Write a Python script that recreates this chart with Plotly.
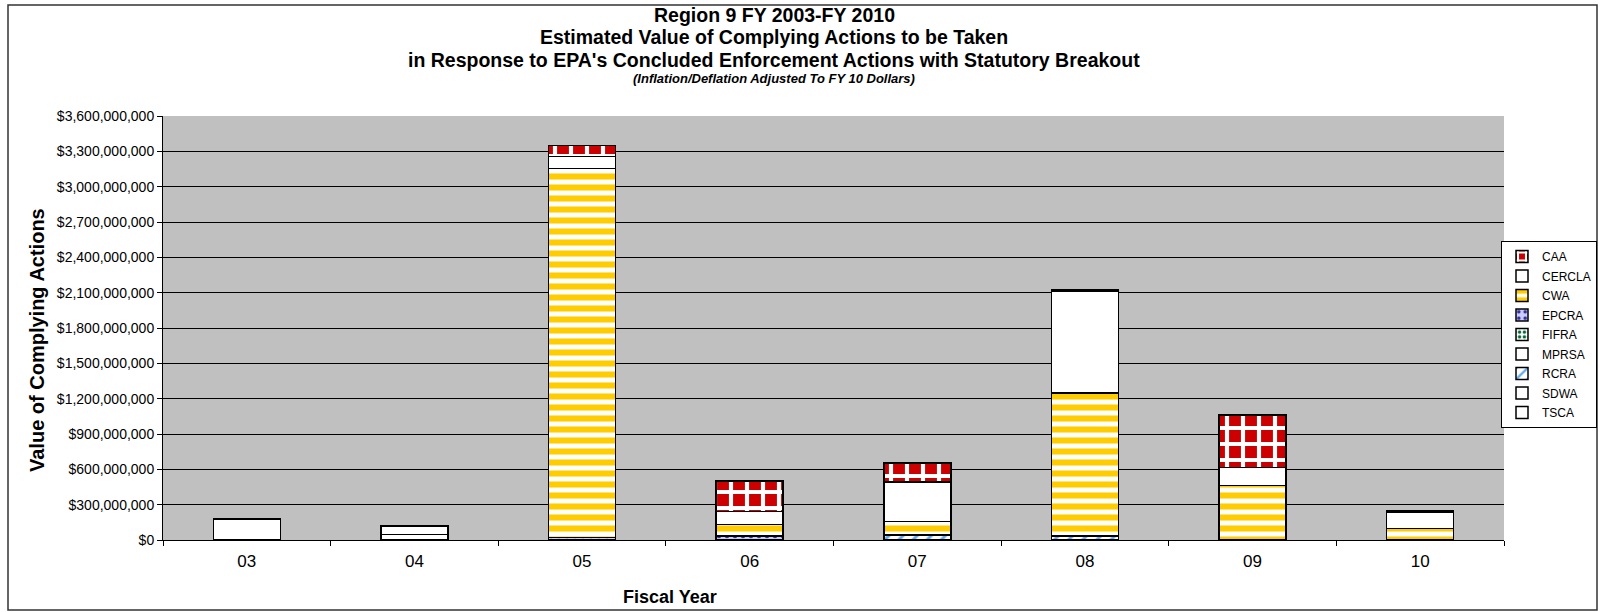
import plotly.graph_objects as go

# fiscal years and values per statute (US dollars, millions)
years = ["03", "04", "05", "06", "07", "08", "09", "10"]

tsca = [0, 0, 0, 0, 0, 0, 0, 0]
sdwa = [0, 45, 0, 0, 0, 0, 0, 0]
rcra = [0, 0, 0, 0, 42, 36, 0, 0]
mprsa = [0, 0, 0, 0, 0, 0, 0, 0]
fifra = [0, 0, 0, 0, 0, 0, 0, 0]
epcra = [0, 0, 20, 36, 0, 0, 0, 0]
cwa = [0, 0, 3136, 97, 113, 1214, 464, 99]
cercla = [175, 74, 99, 107, 337, 866, 153, 136]
caa = [6, 0, 93, 263, 161, 5, 444, 11]

FONT = "Arial, Liberation Sans, sans-serif"
FIG_W, FIG_H = 1600, 612

# plot area in page pixels
L, R, T, B = 163, 1504, 116, 540
W, H = R - L, B - T


def px(x):
    return (x - L) / W


def py(y):
    return (B - y) / H


# bottom -> top stacking order, with fill style
series = [
    ("TSCA", tsca, dict(color="white")),
    ("SDWA", sdwa, dict(color="white")),
    ("RCRA", rcra, dict(color="white", pattern=dict(shape="/", fgcolor="#66AAEE", bgcolor="white", size=10, solidity=0.3, fgopacity=1))),
    ("MPRSA", mprsa, dict(color="white")),
    ("FIFRA", fifra, dict(color="white", pattern=dict(shape=".", fgcolor="#006633", bgcolor="white", size=6, solidity=0.4, fgopacity=1))),
    ("EPCRA", epcra, dict(color="#9999FF", pattern=dict(shape=".", fgcolor="#333399", bgcolor="#CCCCFF", size=8, solidity=0.25, fgopacity=1))),
    ("CWA", cwa, dict(color="white", pattern=dict(shape="-", fgcolor="#FFCC00", bgcolor="white", size=11, solidity=0.55, fgopacity=1))),
    ("CERCLA", cercla, dict(color="white")),
    ("CAA", caa, dict(color="#CC0000", pattern=dict(shape="+", fgcolor="white", bgcolor="#CC0000", size=16, solidity=0.45, fgopacity=1))),
]

fig = go.Figure()
n = len(series)
for i, (name, vals, mk) in enumerate(series):
    fig.add_trace(go.Bar(
        name=name,
        x=years,
        y=[v * 1e6 if v else None for v in vals],
        legendgroup=name,
        legendrank=n - i,  # top of stack first in legend
        marker=dict(line=dict(color="black", width=1.5), **mk),
        width=0.4,
    ))

fig.update_layout(
    barmode="stack",
    width=FIG_W, height=FIG_H,
    margin=dict(l=L, r=FIG_W - R, t=T, b=FIG_H - B, autoexpand=False),
    paper_bgcolor="white",
    plot_bgcolor="#C0C0C0",
    font=dict(family=FONT, color="black"),
    showlegend=True,
    legend=dict(
        x=px(1597), xanchor="right", y=py(241), yanchor="top",
        traceorder="grouped", tracegroupgap=0.5,
        bgcolor="white", bordercolor="black", borderwidth=1,
        font=dict(size=12, family=FONT),
    ),
)

fig.update_xaxes(
    type="category",
    showline=True, linecolor="black", linewidth=1,
    ticks="outside", ticklen=5, tickcolor="black", tickson="boundaries",
    tickfont=dict(size=17, family=FONT),
    ticklabelstandoff=6,
    showgrid=False,
)
fig.update_yaxes(
    range=[0, 3.6e9], dtick=3e8, tickformat="$,.0f",
    showline=True, linecolor="black", linewidth=1,
    ticks="outside", ticklen=5, tickcolor="black",
    gridcolor="black", gridwidth=1,
    tickfont=dict(size=14, family=FONT),
    zeroline=False,
)

title_x = px(774)
title_lines = [
    ("<b>Region 9 FY 2003-FY 2010</b>", 14.5, 19.5),
    ("<b>Estimated Value of Complying Actions to be Taken</b>", 37.5, 19.5),
    ("<b>in Response to EPA's Concluded Enforcement Actions with Statutory Breakout</b>", 60.5, 19.5),
    ("<b><i>(Inflation/Deflation Adjusted To FY 10 Dollars)</i></b>", 78.5, 13),
]
for text, ypix, size in title_lines:
    fig.add_annotation(text=text, xref="paper", yref="paper", x=title_x, y=py(ypix),
                       showarrow=False, xanchor="center", yanchor="middle",
                       font=dict(size=size, family=FONT))

fig.add_annotation(text="<b>Value of Complying Actions</b>", xref="paper", yref="paper",
                   x=px(37), y=py(340), textangle=-90, showarrow=False,
                   xanchor="center", yanchor="middle", font=dict(size=20, family=FONT))
fig.add_annotation(text="<b>Fiscal Year</b>", xref="paper", yref="paper",
                   x=px(670), y=py(597), showarrow=False,
                   xanchor="center", yanchor="middle", font=dict(size=18, family=FONT))

# outer chart border
fig.add_shape(type="rect", xref="paper", yref="paper",
              x0=px(8), x1=px(1597), y0=py(610), y1=py(5),
              line=dict(color="#333333", width=1.5), layer="below")

# drop the default 8px body margin so the figure sits at the page origin
fig.write_html("out.html", config={"displayModeBar": False},
               post_script="document.body.style.margin='0';")
